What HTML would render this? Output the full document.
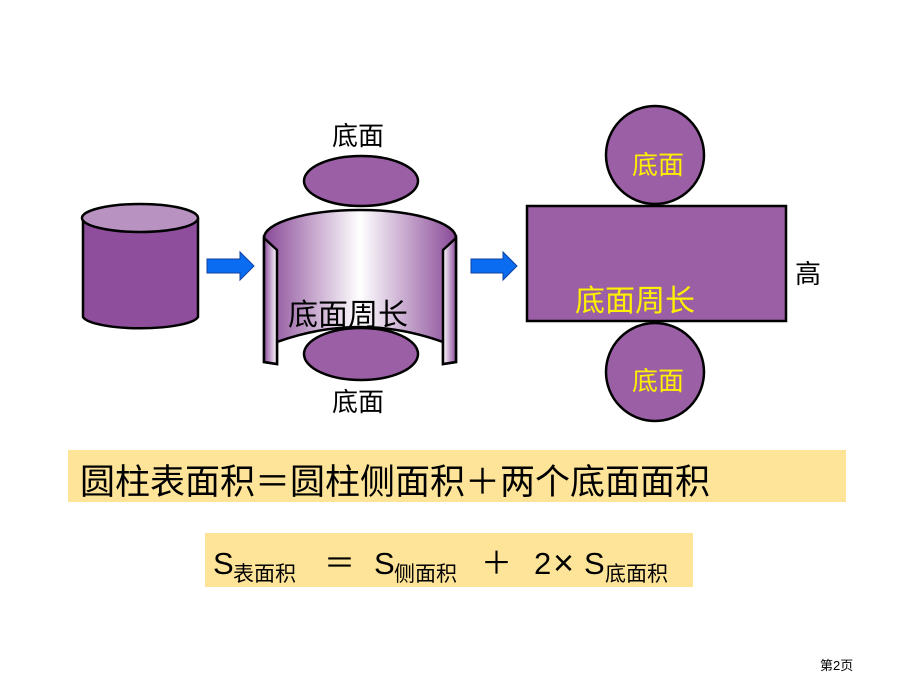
<!DOCTYPE html>
<html><head><meta charset="utf-8"><style>
body{margin:0;width:920px;height:690px;background:#fff;overflow:hidden;position:relative;font-family:"Liberation Sans","Noto Sans CJK SC",sans-serif}
.t{position:absolute;font-size:26px;white-space:nowrap;line-height:1}
.f{position:absolute;font-size:31px;line-height:1;white-space:nowrap}
.sub{position:absolute;font-size:21px;line-height:1;white-space:nowrap}
</style></head><body>
<svg width="920" height="690" style="position:absolute;left:0;top:0">
<defs>
<linearGradient id="g" x1="0" x2="1" y1="0" y2="0">
<stop offset="0" stop-color="#8a4a98"/><stop offset="0.5" stop-color="#fff"/><stop offset="1" stop-color="#8a4a98"/>
</linearGradient>
<linearGradient id="s" x1="0" x2="1"><stop offset="0" stop-color="#8a4a98"/><stop offset="1" stop-color="#fff"/></linearGradient>
<linearGradient id="s2" x1="0" x2="1"><stop offset="0" stop-color="#fff"/><stop offset="1" stop-color="#8a4a98"/></linearGradient>
</defs>
<g stroke="#000" stroke-width="2.5">
<path d="M83 218 V317 A58 13 0 0 0 198 317 V218" fill="#8e4e9c"/>
<ellipse cx="140" cy="218" rx="58" ry="14" fill="#b893c2"/>
<ellipse cx="361" cy="181" rx="57" ry="25" fill="#9a5fa5"/>
<path d="M264 238 A96 28 0 0 1 456 238 L456 362 L443 364 L443 342 Q360 312 277 342 L277 364 L264 362 Z" fill="url(#g)"/>
<path d="M264 238 L277 250 V364 L264 362 Z" fill="url(#s)"/>
<path d="M456 238 L443 250 V364 L456 362 Z" fill="url(#s2)"/>
<ellipse cx="361" cy="354" rx="57" ry="26" fill="#9a5fa5"/>
<circle cx="655" cy="155" r="49" fill="#9a5fa5"/>
<circle cx="655" cy="372" r="49" fill="#9a5fa5"/>
<rect x="527" y="206" width="259" height="115" fill="#9a5fa5"/>
</g>
<path d="M207 259 H240 V252 L254 266 L240 280 V273 H207 Z" fill="#0a6cf0" stroke="#1040a0" stroke-width="1"/>
<path d="M471 259 H503 V252 L517 266 L503 280 V273 H471 Z" fill="#0a6cf0" stroke="#1040a0" stroke-width="1"/>
<rect x="68" y="450" width="778" height="52" fill="#fde499"/>
<rect x="205" y="533" width="488" height="54" fill="#fde499"/>
</svg>
<div class="t" style="left:332px;top:123px">底面</div>
<div class="t" style="left:332px;top:389px">底面</div>
<div class="t" style="left:288px;top:301px;font-size:30px">底面周长</div>
<div class="t" style="left:632px;top:152px;color:#ffef00">底面</div>
<div class="t" style="left:632px;top:368px;color:#ffef00">底面</div>
<div class="t" style="left:575px;top:287px;color:#ffef00;font-size:30px">底面周长</div>
<div class="t" style="left:795px;top:261px">高</div>
<div class="t" style="left:80px;top:465px;font-size:35px">圆柱表面积＝圆柱侧面积＋两个底面面积</div>
<div class="f" style="left:213px;top:548px">S</div>
<div class="sub" style="left:233px;top:564px">表面积</div>
<div class="f" style="left:324px;top:548px">＝</div>
<div class="f" style="left:374px;top:548px">S</div>
<div class="sub" style="left:394px;top:564px">侧面积</div>
<div class="f" style="left:481px;top:548px">＋</div>
<div class="f" style="left:534px;top:548px">2</div>
<div class="f" style="left:553px;top:545px;font-size:36px">×</div>
<div class="f" style="left:584px;top:548px">S</div>
<div class="sub" style="left:605px;top:564px">底面积</div>
<div class="t" style="left:820px;top:659px;font-size:13px">第2页</div>
</body></html>
